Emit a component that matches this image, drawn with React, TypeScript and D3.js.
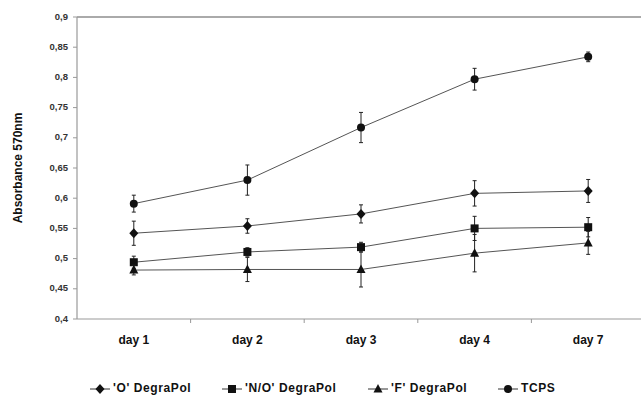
import * as d3 from "d3";
import React from "react";

const days = ["day 1", "day 2", "day 3", "day 4", "day 7"];
const yTicks = [0.4, 0.45, 0.5, 0.55, 0.6, 0.65, 0.7, 0.75, 0.8, 0.85, 0.9];

const oMean = [0.542, 0.554, 0.574, 0.608, 0.612];
const oErr = [0.02, 0.012, 0.015, 0.021, 0.019];
const noMean = [0.494, 0.511, 0.519, 0.55, 0.552];
const noErr = [0.01, 0.007, 0.008, 0.02, 0.016];
const fMean = [0.481, 0.482, 0.482, 0.509, 0.526];
const fErr = [0.008, 0.02, 0.029, 0.031, 0.019];
const tcpsMean = [0.591, 0.63, 0.717, 0.797, 0.834];
const tcpsErr = [0.014, 0.025, 0.025, 0.018, 0.008];

type Series = { name: string; mean: number[]; err: number[]; shape: "diamond" | "square" | "triangle" | "circle" };

const series: Series[] = [
    { name: "'O' DegraPol", mean: oMean, err: oErr, shape: "diamond" },
    { name: "'N/O' DegraPol", mean: noMean, err: noErr, shape: "square" },
    { name: "'F' DegraPol", mean: fMean, err: fErr, shape: "triangle" },
    { name: "TCPS", mean: tcpsMean, err: tcpsErr, shape: "circle" },
];

const font = "'Liberation Sans', Arial, sans-serif";

function Marker({ shape, cx, cy }: { shape: Series["shape"]; cx: number; cy: number }) {
    if (shape === "diamond") return <path d={`M${cx},${cy - 5}L${cx + 4.5},${cy}L${cx},${cy + 5}L${cx - 4.5},${cy}Z`} fill="#111" />;
    if (shape === "square") return <rect x={cx - 4} y={cy - 4} width={8} height={8} fill="#111" />;
    if (shape === "triangle") return <path d={`M${cx},${cy - 5}L${cx + 4.5},${cy + 3.5}L${cx - 4.5},${cy + 3.5}Z`} fill="#111" />;
    return <circle cx={cx} cy={cy} r={4} fill="#111" />;
}

export default function App() {
    const W = 641, H = 397;
    const m = { top: 17, left: 77, bottom: 78 };
    const x = d3.scaleBand<string>().domain(days).range([m.left, m.left + 568]);
    const y = d3.scaleLinear().domain([0.4, 0.9]).range([H - m.bottom, m.top]);
    const cx = (d: string) => x(d)! + x.bandwidth() / 2;
    const line = d3.line<number>().x((_, i) => cx(days[i])).y(v => y(v));
    const legendX = [90, 222, 368, 498];

    return (
        <div style={{ position: "fixed", left: 0, top: 0, width: W, height: H, background: "#fff", overflow: "hidden" }}>
            <svg width={W} height={H} style={{ display: "block", fontFamily: font }}>
                <line x1={m.left} x2={W} y1={y(0.9)} y2={y(0.9)} stroke="#aaa" strokeWidth={2} />
                <line x1={m.left} x2={m.left} y1={y(0.9)} y2={y(0.4)} stroke="#999" strokeWidth={1.2} />
                <line x1={m.left} x2={W} y1={y(0.4)} y2={y(0.4)} stroke="#999" strokeWidth={1.2} />
                {yTicks.map(t => (
                    <g key={t}>
                        <line x1={m.left - 4} x2={m.left} y1={y(t)} y2={y(t)} stroke="#999" />
                        <text x={68} y={y(t)} textAnchor="end" dominantBaseline="middle" fontSize={9.5} fontWeight="bold" fill="#333">
                            {d3.format(".2~f")(t).replace(".", ",")}
                        </text>
                    </g>
                ))}
                {days.map((d, i) => (
                    <g key={d}>
                        {i > 0 && <line x1={x(d)} x2={x(d)} y1={y(0.4)} y2={y(0.4) + 4} stroke="#999" />}
                        <text x={cx(d)} y={y(0.4) + 25} textAnchor="middle" fontSize={12} fontWeight="bold" fill="#111">{d}</text>
                    </g>
                ))}
                <text transform={`translate(22,${(y(0.9) + y(0.4)) / 2}) rotate(-90)`} textAnchor="middle" fontSize={12} fontWeight="bold" fill="#111">
                    Absorbance 570nm
                </text>
                {series.map(s => (
                    <g key={s.name}>
                        <path d={line(s.mean) ?? undefined} fill="none" stroke="#555" strokeWidth={1} />
                        {s.mean.map((v, i) => {
                            const px = cx(days[i]);
                            const e = s.err[i];
                            return (
                                <g key={i}>
                                    <line x1={px} x2={px} y1={y(v + e)} y2={y(v - e)} stroke="#222" strokeWidth={1} />
                                    <line x1={px - 2} x2={px + 2} y1={y(v + e)} y2={y(v + e)} stroke="#222" />
                                    <line x1={px - 2} x2={px + 2} y1={y(v - e)} y2={y(v - e)} stroke="#222" />
                                    <Marker shape={s.shape} cx={px} cy={y(v)} />
                                </g>
                            );
                        })}
                    </g>
                ))}
                {series.map((s, i) => (
                    <g key={s.name} transform={`translate(${legendX[i]},389)`}>
                        <line x1={0} x2={20} y1={0} y2={0} stroke="#333" />
                        <Marker shape={s.shape} cx={10} cy={0} />
                        <text x={23} y={0} dominantBaseline="middle" fontSize={12} fontWeight="bold" letterSpacing={0.6} fill="#111">{s.name}</text>
                    </g>
                ))}
            </svg>
        </div>
    );
}
